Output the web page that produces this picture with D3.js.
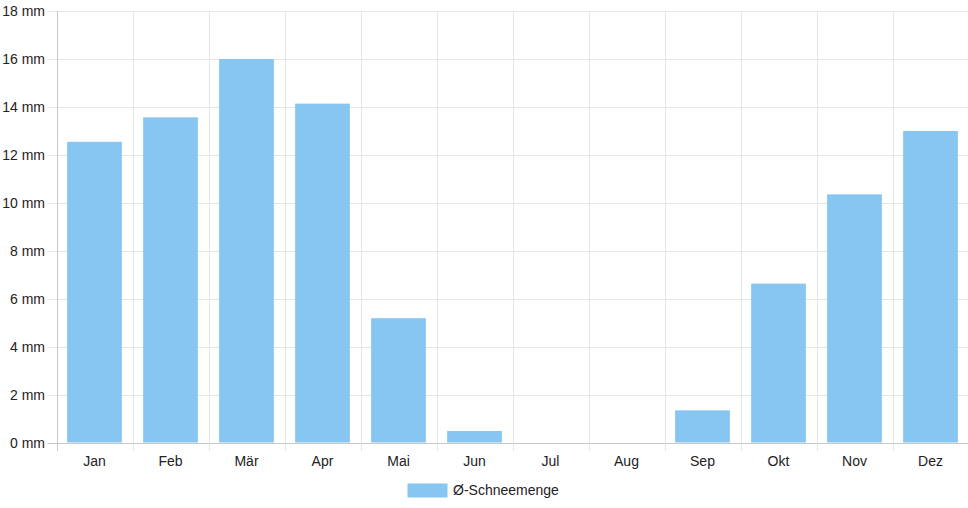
<!DOCTYPE html>
<html>
<head>
<meta charset="utf-8">
<script src="https://cdn.jsdelivr.net/npm/d3@7/dist/d3.min.js"></script>
<style>
html,body{margin:0;padding:0;background:#fff;}
svg{display:block;}
text{font-family:"Liberation Sans",Arial,Helvetica,sans-serif;font-size:14px;fill:#222;}
</style>
</head>
<body>
<svg id="chart" width="968" height="508"></svg>
<script>
const months = ["Jan","Feb","Mär","Apr","Mai","Jun","Jul","Aug","Sep","Okt","Nov","Dez"];
const snow = [12.55, 13.57, 16.0, 14.14, 5.2, 0.5, 0, 0, 1.36, 6.64, 10.36, 13.0];
const yTicks = [0, 2, 4, 6, 8, 10, 12, 14, 16, 18];
const seriesName = "Ø-Schneemenge";

(function () {
const svg = d3.select("#chart");
const pLeft = 56.5, pRight = 968.5, pTop = 11, pBottom = 443;

const x = d3.scaleBand().domain(months).range([pLeft, pRight]).paddingInner(0).paddingOuter(0);
const y = d3.scaleLinear().domain([0, 18]).range([pBottom, pTop]);

const grid = svg.append("g");
grid.selectAll("line.h").data(yTicks).enter().append("line")
  .attr("x1", pLeft - 9).attr("x2", pRight)
  .attr("y1", d => Math.round(y(d)) + 0.5).attr("y2", d => Math.round(y(d)) + 0.5)
  .attr("stroke", d => d === 0 ? "#c8c8c8" : "#e6e6e6").attr("stroke-width", 1);
const vx = months.map(m => x(m));
grid.selectAll("line.v").data(vx).enter().append("line")
  .attr("x1", d => Math.round(d) + 0.5).attr("x2", d => Math.round(d) + 0.5)
  .attr("y1", pTop).attr("y2", pBottom + 8)
  .attr("stroke", (d, i) => i === 0 ? "#c8c8c8" : "#e6e6e6").attr("stroke-width", 1);

svg.append("g").selectAll("text").data(yTicks).enter().append("text")
  .attr("x", 45).attr("y", d => y(d)).attr("dy", "0.35em")
  .attr("text-anchor", "end").text(d => d + " mm");

const bw = x.bandwidth() * 0.8 * 0.9;
svg.append("g").selectAll("rect").data(snow).enter().append("rect")
  .attr("x", (d, i) => x(months[i]) + x.bandwidth() / 2 - bw / 2)
  .attr("width", bw)
  .attr("y", d => y(d))
  .attr("height", d => Math.max(0, y(0) - y(d) - 0.5))
  .attr("fill", "#88c6f2");

svg.append("g").selectAll("text").data(months).enter().append("text")
  .attr("x", d => x(d) + x.bandwidth() / 2).attr("y", 461).attr("dy", "0.35em")
  .attr("text-anchor", "middle").text(d => d);

const lg = svg.append("g");
lg.append("rect").attr("x", 407.5).attr("y", 483.5).attr("width", 40).attr("height", 14).attr("fill", "#88c6f2");
lg.append("text").attr("x", 453).attr("y", 490.5).attr("dy", "0.35em").text(seriesName);
})();
</script>
</body>
</html>
